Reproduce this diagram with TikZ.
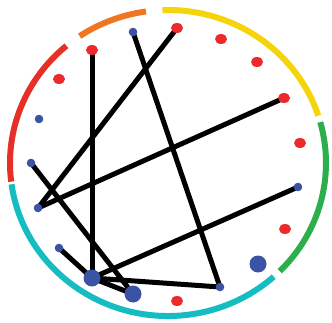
\documentclass[tikz,border=0pt]{standalone}
\usepackage{tikz}
\usetikzlibrary{shapes.geometric,backgrounds}
\definecolor{ringred}{HTML}{E63027}
\definecolor{ringorange}{HTML}{EE7623}
\definecolor{ringyellow}{HTML}{F6D40C}
\definecolor{ringgreen}{HTML}{2BAE4B}
\definecolor{ringcyan}{HTML}{15BDC3}
\definecolor{dotred}{HTML}{ED2A2A}
\definecolor{dotblue}{HTML}{3A53A4}

\begin{document}
\begin{tikzpicture}[
  x=1pt,
  y=1pt,
  ring/.style={line width=6pt},
  reddot/.style={ellipse, fill=dotred, minimum width=12pt, minimum height=10pt, inner sep=0pt},
  bluedot/.style={circle, fill=dotblue, minimum size=8.6pt, inner sep=0pt},
  bigblue/.style={circle, fill=dotblue, minimum size=17pt, inner sep=0pt},
  link/.style={draw=black, line width=5pt}
]
\useasboundingbox (0,0) rectangle (332,322);

\coordinate (centre) at (168,159);

% outer ring segments
\foreach \a/\b/\c in {130/187/ringred, 98/124/ringorange, 18/92/ringyellow,
  -45/15.5/ringgreen, 188/312/ringcyan}
  \draw[ring, draw=\c] (centre) ++(\a:158 and 153)
    arc[start angle=\a, end angle=\b, x radius=158, y radius=153];

% red dots
\node[reddot] (r1) at (92,272) {};
\node[reddot] (r2) at (59,243) {};
\node[reddot] (r3) at (177,294) {};
\node[reddot] (r4) at (221,283) {};
\node[reddot] (r5) at (257,260) {};
\node[reddot] (r6) at (284,224) {};
\node[reddot] (r7) at (300,179) {};
\node[reddot] (r8) at (285,93) {};
\node[reddot] (r9) at (177,21) {};

% blue dots
\node[bluedot] (b1) at (133,290) {};
\node[bluedot] (b2) at (39,203) {};
\node[bluedot] (b3) at (31,159) {};
\node[bluedot] (b4) at (38,114) {};
\node[bluedot] (b5) at (59,74) {};
\node[bigblue] (b6) at (92,44) {};
\node[bigblue] (b7) at (133,28) {};
\node[bluedot] (b8) at (220,35) {};
\node[bigblue] (b9) at (258,58) {};
\node[bluedot] (b10) at (298,135) {};

% links
\begin{scope}[on background layer]
\draw[link] (r1.center) -- (b6.center);
\draw[link] (r3.center) -- (b4.center);
\draw[link] (r6.center) -- (b4.center);
\draw[link] (b1.center) -- (b8.center);
\draw[link] (b3.center) -- (b7.center);
\draw[link] (b10.center) -- (b6.center);
\draw[link] (b5.center) -- (b6.center);
\draw[link] (b6.center) -- (b8.center);
\draw[link] (b6.center) -- (b7.center);
\end{scope}

\end{tikzpicture}
\end{document}
